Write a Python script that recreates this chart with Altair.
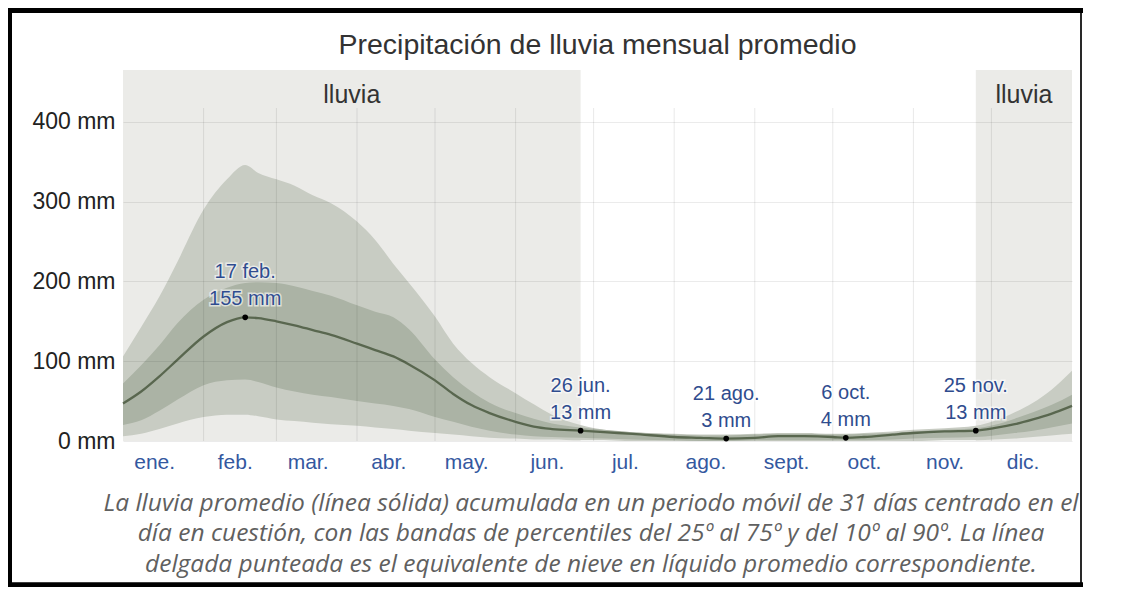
import altair as alt
import pandas as pd

# ---------------- data ----------------
days = [0, 7, 14, 21, 31, 40, 47, 52, 59, 66, 73, 80, 90, 97, 104, 110, 120, 127, 134, 141,
        151, 158, 165, 176, 185, 196, 212, 222, 232, 243, 252, 262, 273, 278, 285, 296, 304,
        316, 328, 335, 343, 350, 357, 365]
mean = [47, 62, 81, 102, 131, 149, 155, 154, 150, 145, 139, 133, 122, 114, 106, 96, 76, 59, 45, 35,
        24, 18, 15, 13, 11, 9, 5, 4, 3, 4, 6, 6, 5, 4, 5, 8, 10,
        12, 13, 16, 21, 27, 34, 44]
p10 = [6, 9, 15, 22, 30, 33, 33, 31, 27, 25, 23, 21, 19, 17, 15, 13, 10, 8, 6, 4,
       3, 2, 2, 1, 1, 0, 0, 0, 0, 0, 0, 0, 0, 0, 0, 0, 0,
       1, 1, 2, 3, 5, 7, 9]
p25 = [20, 26, 38, 52, 70, 76, 77, 74, 67, 62, 58, 55, 50, 47, 44, 40, 30, 24, 18, 13,
       8, 6, 5, 4, 3, 2, 1, 0, 0, 1, 1, 1, 1, 1, 1, 2, 3,
       4, 5, 7, 10, 13, 17, 22]
p75 = [72, 95, 120, 148, 177, 192, 198, 199, 198, 194, 188, 182, 170, 162, 155, 140, 102, 80, 62, 48,
       35, 28, 22, 17, 14, 11, 8, 7, 7, 8, 9, 9, 8, 8, 9, 10, 12,
       14, 16, 20, 28, 36, 45, 58]
p90 = [106, 143, 181, 225, 290, 328, 346, 336, 328, 320, 308, 298, 275, 252, 222, 198, 156, 122, 98, 80,
       60, 46, 33, 20, 14, 11, 9, 8, 8, 9, 10, 10, 9, 9, 10, 12, 14,
       16, 19, 25, 36, 48, 64, 88]

month_names = ["ene.", "feb.", "mar.", "abr.", "may.", "jun.", "jul.", "ago.", "sept.", "oct.", "nov.", "dic."]
month_starts = [0, 31, 59, 90, 120, 151, 181, 212, 243, 273, 304, 334, 365]

peak_days = [47, 176, 232, 278, 328]
peak_values = [155, 13, 3, 4, 13]
peak_dates = ["17 feb.", "26 jun.", "21 ago.", "6 oct.", "25 nov."]

season_start = [0, 328]
season_end = [176, 365]
season_label = ["lluvia", "lluvia"]

y_ticks = [0, 100, 200, 300, 400]
y_max = 465

title_text = "Precipitación de lluvia mensual promedio"
caption_lines = [
    "La lluvia promedio (línea sólida) acumulada en un periodo móvil de 31 días centrado en el",
    "día en cuestión, con las bandas de percentiles del 25º al 75º y del 10º al 90º. La línea",
    "delgada punteada es el equivalente de nieve en líquido promedio correspondiente.",
]

# ---------------- layout / style ----------------
W, H = 949, 371
PAD = {"left": 115, "top": 62, "right": 40, "bottom": 146}
FONT = "Liberation Sans"
BLUE = "#34589f"
ANN_BLUE = "#2f4c8e"
SHADE = "#ebebe8"
LIGHT_BAND = "#c8ccc3"
DARK_BAND = "#abb3a5"
LINE = "#59674f"
LABEL_SHIFT = 12  # month labels sit a little before mid-month

curve = pd.DataFrame({"day": days, "mean": mean, "p10": p10, "p25": p25, "p75": p75, "p90": p90})
label_days = [s + LABEL_SHIFT for s in month_starts[:-1]]
months = pd.DataFrame({"start": month_starts[1:-1]})
seasons = pd.DataFrame({"start": season_start, "end": season_end, "label": season_label})
peaks = pd.DataFrame({"day": peak_days, "value": peak_values, "date": peak_dates})
peaks["text"] = peaks["date"] + "\n" + peaks["value"].astype(str) + " mm"
titles = pd.DataFrame({"t": [title_text]})

label_map = "{" + ",".join(f"'{m:g}':'{n}'" for m, n in zip(label_days, month_names)) + "}"

xscale = alt.Scale(domain=[0, 365], nice=False, zero=False)
yscale = alt.Scale(domain=[0, y_max], nice=False)

x_axis = alt.Axis(
    values=label_days, labelExpr=f"{label_map}['' + datum.value]", ticks=False, domain=False, grid=False,
    labelFont=FONT, labelFontSize=21, labelColor=BLUE, labelPadding=10,
    title=caption_lines, titleFont="Open Sans", titleFontStyle="italic", titleFontWeight="normal",
    titleFontSize=24.5, titleColor="#606060", titleLineHeight=30.5, titlePadding=19,
    titleX=W / 2 - 7,
)
y_axis = alt.Axis(
    values=y_ticks, labelExpr="datum.value + ' mm'", ticks=False, domain=False, grid=True,
    gridColor="#000000", gridOpacity=0.08, labelFont=FONT, labelFontSize=23, labelColor="#222222",
    labelPadding=8, title=None, zindex=1,
)

shade = alt.Chart(seasons).mark_rect(color=SHADE).encode(
    x=alt.X("start:Q", scale=xscale, axis=x_axis), x2="end:Q",
    y=alt.value(0), y2=alt.value(H),
)
shade_text = alt.Chart(seasons).transform_calculate(mid="(datum.start + datum.end) / 2").mark_text(
    font=FONT, fontSize=25, color="#333333", baseline="middle"
).encode(x=alt.X("mid:Q", scale=xscale), y=alt.value(25), text="label:N")

band90 = alt.Chart(curve).mark_area(color=LIGHT_BAND, interpolate="monotone").encode(
    x=alt.X("day:Q", scale=xscale),
    y=alt.Y("p10:Q", scale=yscale, axis=y_axis), y2="p90:Q",
)
band75 = alt.Chart(curve).mark_area(color=DARK_BAND, interpolate="monotone").encode(
    x=alt.X("day:Q", scale=xscale), y=alt.Y("p25:Q", scale=yscale), y2="p75:Q",
)
vgrid = alt.Chart(months).mark_rule(color="#000000", opacity=0.09, strokeWidth=1).encode(
    x=alt.X("start:Q", scale=xscale), y=alt.value(38), y2=alt.value(H),
)
line = alt.Chart(curve).mark_line(color=LINE, strokeWidth=2.3, interpolate="monotone").encode(
    x=alt.X("day:Q", scale=xscale), y=alt.Y("mean:Q", scale=yscale),
)
dots = alt.Chart(peaks).mark_circle(color="#000000", size=32, opacity=1).encode(
    x=alt.X("day:Q", scale=xscale), y=alt.Y("value:Q", scale=yscale),
)
halo = alt.Chart(peaks).mark_text(
    font=FONT, fontSize=20, lineBreak="\n", lineHeight=27, baseline="bottom", dy=-35,
    color="#ffffff", stroke="#ffffff", strokeWidth=3, strokeOpacity=0.6,
).encode(x=alt.X("day:Q", scale=xscale), y=alt.Y("value:Q", scale=yscale), text="text:N")
ann = alt.Chart(peaks).mark_text(
    font=FONT, fontSize=20, lineBreak="\n", lineHeight=27, baseline="bottom", dy=-35, color=ANN_BLUE,
).encode(x=alt.X("day:Q", scale=xscale), y=alt.Y("value:Q", scale=yscale), text="text:N")

title_mark = alt.Chart(titles).mark_text(
    font=FONT, fontSize=28.5, color="#333333", baseline="middle", align="center"
).encode(x=alt.value(W / 2), y=alt.value(-25), text="t:N")

# decorative screenshot frame
frame_top = alt.Chart(seasons).mark_rule(color="#000000", strokeWidth=6).encode(
    x=alt.value(-115), x2=alt.value(960), y=alt.value(-60))
frame_left = alt.Chart(seasons).mark_rule(color="#000000", strokeWidth=4).encode(
    x=alt.value(-113), y=alt.value(-65), y2=alt.value(H + PAD["bottom"]))
frame_right = alt.Chart(seasons).mark_rule(color="#000000", strokeWidth=1.2).encode(
    x=alt.value(958), y=alt.value(-60), y2=alt.value(H + PAD["bottom"]))
frame_bottom = alt.Chart(seasons).mark_rule(color="#000000", strokeWidth=5).encode(
    x=alt.value(-115), x2=alt.value(960), y=alt.value(H + PAD["bottom"] - 2))

chart = alt.layer(
    shade, shade_text, band90, band75, vgrid, line, dots, halo, ann, title_mark,
    frame_top, frame_left, frame_right, frame_bottom,
).properties(
    width=W, height=H,
    autosize=alt.AutoSizeParams(type="none"),
    padding=PAD, background="#ffffff",
).configure_view(stroke=None)

chart.save("out.html", embed_options={"renderer": "svg", "actions": False})
